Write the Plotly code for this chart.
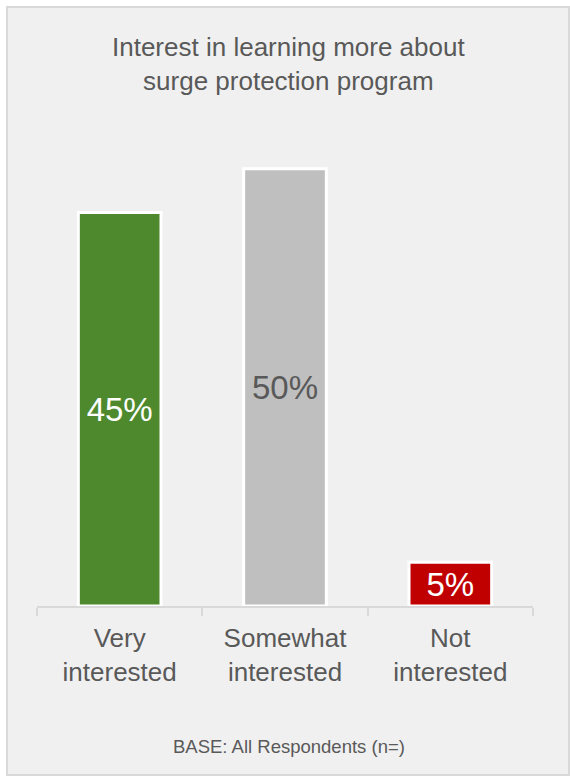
import plotly.graph_objects as go

# Survey results
categories = ["Very<br>interested", "Somewhat<br>interested", "Not<br>interested"]
values = [45, 50, 5]
value_labels = ["45%", "50%", "5%"]
bar_colors = ["#4e8a2d", "#bfbfbf", "#c00000"]
label_colors = ["#ffffff", "#595959", "#ffffff"]

chart_title = "Interest in learning more about<br>surge protection program"
base_note = "BASE: All Respondents (n=)"
page_heading = "protection program"

W, H = 570, 777
L, R, T, B = 37, 37, 125, 171
FONT = "Liberation Sans, Arial, sans-serif"
TEXT = "#595959"

plot_w = W - L - R
plot_h = H - T - B


def px_x(px):
    return (px - L) / plot_w


def px_y(py):
    return (H - B - py) / plot_h


fig = go.Figure(
    go.Bar(
        x=categories,
        y=values,
        width=0.5,
        marker=dict(color=bar_colors, line=dict(color="#ffffff", width=3)),
        text=value_labels,
        textposition="inside",
        insidetextanchor="middle",
        textangle=0,
        textfont=dict(family=FONT, size=33, color=label_colors),
        hoverinfo="skip",
    )
)

# light grey card behind the chart
fig.add_shape(
    type="rect", xref="paper", yref="paper", layer="below",
    x0=px_x(7), x1=px_x(569), y0=px_y(775), y1=px_y(7),
    fillcolor="#f0f0f0", line=dict(color="#d9d9d9", width=2),
)

fig.add_annotation(
    text=chart_title, xref="paper", yref="paper",
    x=px_x(288), y=px_y(64), xanchor="center", yanchor="middle",
    showarrow=False, font=dict(family=FONT, size=26, color=TEXT),
)
fig.add_annotation(
    text=base_note, xref="paper", yref="paper",
    x=px_x(289), y=px_y(746), xanchor="center", yanchor="middle",
    showarrow=False, font=dict(family=FONT, size=18.5, color=TEXT),
)
# page heading running off the top edge
fig.add_annotation(
    text=page_heading, xref="paper", yref="paper",
    x=px_x(14), y=px_y(1), xanchor="left", yanchor="bottom",
    showarrow=False, font=dict(family=FONT, size=60, color="#262626"),
)

fig.update_layout(
    width=W, height=H,
    margin=dict(l=L, r=R, t=T, b=B, pad=0),
    paper_bgcolor="#ffffff",
    plot_bgcolor="rgba(0,0,0,0)",
    showlegend=False,
    bargap=0.5,
    xaxis=dict(
        showline=True, linecolor="#d9d9d9", linewidth=2,
        ticks="outside", tickson="boundaries", ticklen=8,
        tickcolor="#d9d9d9", tickwidth=2, ticklabelstandoff=8,
        tickfont=dict(family=FONT, size=26, color=TEXT),
        showgrid=False, zeroline=False, fixedrange=True,
    ),
    yaxis=dict(
        range=[0, 55], visible=False, showgrid=False,
        zeroline=False, fixedrange=True,
    ),
)

fig.write_html("out.html")
